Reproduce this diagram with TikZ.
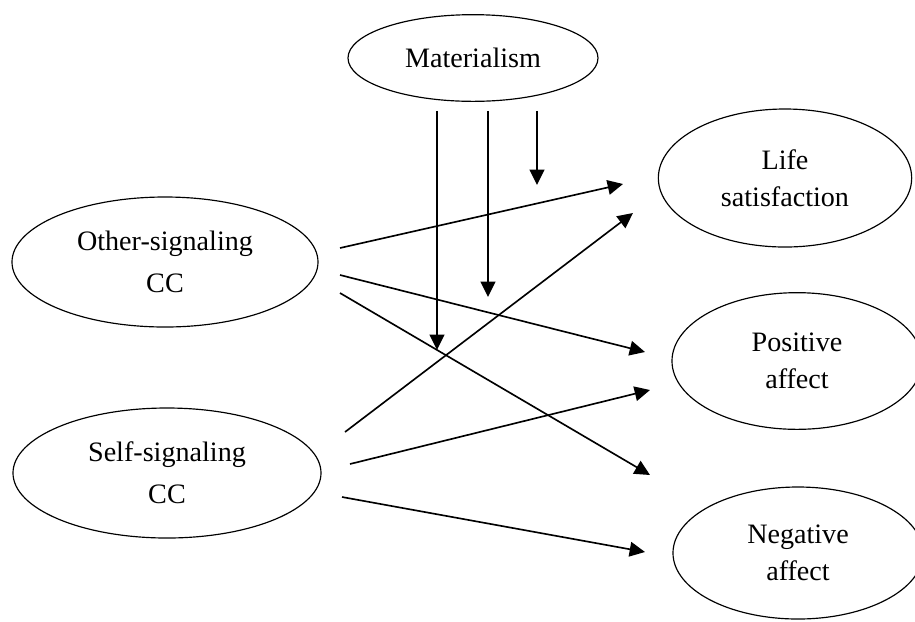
\documentclass[tikz,border=0pt]{standalone}
\usepackage{fontspec}
\setmainfont{Liberation Serif}
\usetikzlibrary{shapes.geometric,arrows.meta,calc}

\tikzset{
  var/.style={ellipse, draw, line width=0.5pt, inner sep=0pt, align=center,
    font=\fontsize{12}{16}\selectfont},
  link/.style={-{Triangle[length=0.23cm,width=0.22cm]}, line width=0.7pt},
}

\begin{document}
\begin{tikzpicture}[x=0.015cm, y=-0.015cm]
  \useasboundingbox (0,0) rectangle (915,621);

  % Define nodes
  \node[var, minimum width=3.75cm, minimum height=1.3cm]  (mat)  at (473,58)  {Materialism};
  \node[var, minimum width=4.59cm, minimum height=1.95cm] (oth)  at (165,262) {Other-signaling\\[2pt]CC};
  \node[var, minimum width=4.62cm, minimum height=1.95cm] (slf)  at (167,473) {Self-signaling\\[2pt]CC};
  \node[var, minimum width=3.8cm,  minimum height=2.07cm] (life) at (785,178) {Life\\satisfaction};
  \node[var, minimum width=3.75cm, minimum height=2.05cm] (pos)  at (797,361) {Positive\\affect};
  \node[var, minimum width=3.75cm, minimum height=1.98cm] (neg)  at (798,553) {Negative\\affect};

  % Moderation targets
  \coordinate (m1) at (437,350);
  \coordinate (m2) at (488,297);
  \coordinate (m3) at (537,185);

  % Connect the nodes
  \draw[link] ($(oth)+(175,-14)$) -- ($(life)+(-162,6)$);
  \draw[link] ($(oth)+(175,13)$)  -- ($(pos)+(-152,-9)$);
  \draw[link] ($(oth)+(175,31)$)  -- ($(neg)+(-148,-78)$);
  \draw[link] ($(slf)+(178,-41)$) -- ($(life)+(-152,35)$);
  \draw[link] ($(slf)+(183,-9)$)  -- ($(pos)+(-147,29)$);
  \draw[link] ($(slf)+(175,24)$)  -- ($(neg)+(-153,-1)$);

  % Materialism
  \foreach \m in {m1,m2,m3}
    \draw[link] ($(\m |- mat.south)+(0,9)$) -- (\m);

\end{tikzpicture}
\end{document}
